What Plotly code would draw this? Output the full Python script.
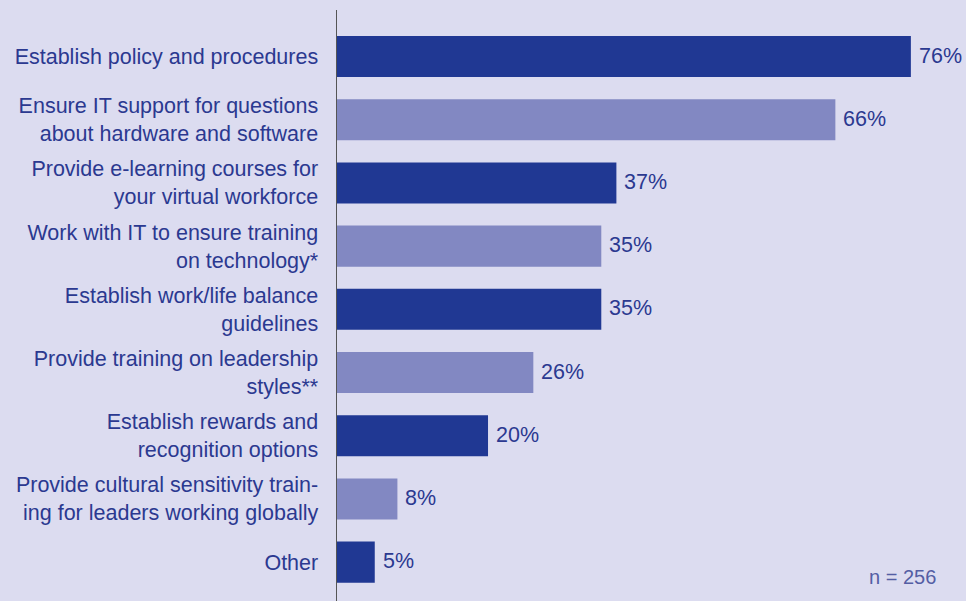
import plotly.graph_objects as go

categories = [
    "Establish policy and procedures",
    "Ensure IT support for questions<br>about hardware and software",
    "Provide e-learning courses for<br>your virtual workforce",
    "Work with IT to ensure training<br>on technology*",
    "Establish work/life balance<br>guidelines",
    "Provide training on leadership<br>styles**",
    "Establish rewards and<br>recognition options",
    "Provide cultural sensitivity train-<br>ing for leaders working globally",
    "Other",
]
values = [76, 66, 37, 35, 35, 26, 20, 8, 5]
value_labels = ["76%", "66%", "37%", "35%", "35%", "26%", "20%", "8%", "5%"]

DARK = "#203893"
LIGHT = "#8288c2"
BG = "#dcdcf0"
TXT = "#2b3990"
FS = 21.5
colors = [DARK if i % 2 == 0 else LIGHT for i in range(len(values))]

fig = go.Figure(go.Bar(
    x=values, y=categories, orientation="h",
    marker=dict(color=colors, line=dict(width=0)),
    width=0.65, hoverinfo="skip",
))

for c, v, t in zip(categories, values, value_labels):
    fig.add_annotation(x=v, y=c, text=t, showarrow=False, xanchor="left",
                       xshift=6, yshift=1, font=dict(size=FS, color=TXT))

fig.add_annotation(x=0.955, y=0.018, xref="paper", yref="paper", text="n = 256",
                   showarrow=False, xanchor="right", yanchor="bottom",
                   font=dict(size=20, color="#545ea4"))

fig.update_layout(
    width=966, height=601,
    margin=dict(l=337, r=0, t=10, b=0),
    paper_bgcolor=BG, plot_bgcolor=BG,
    font=dict(family="Liberation Sans, Arial, sans-serif", size=FS, color=TXT),
    showlegend=False,
    xaxis=dict(range=[0, 83.3], visible=False, fixedrange=True),
    yaxis=dict(range=[8.615, -0.736], showline=True, linecolor="#555555",
               linewidth=1.5, ticks="", showgrid=False, zeroline=False,
               fixedrange=True,
               ticklabelstandoff=13, tickfont=dict(size=FS, color=TXT)),
)

fig.write_html(
    "out.html",
    config={"displayModeBar": False, "staticPlot": True},
    post_script="document.body.style.margin='0';document.body.style.overflow='hidden';document.body.style.background='%s';" % BG,
)
